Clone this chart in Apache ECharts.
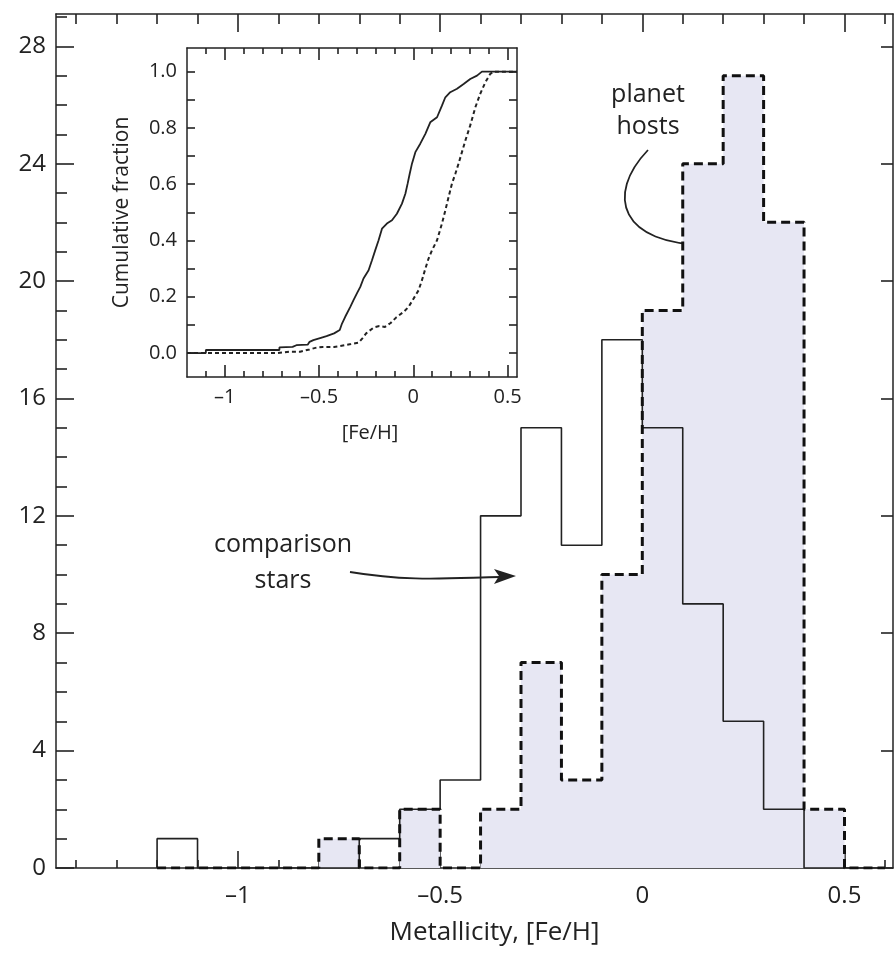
<!DOCTYPE html>
<html><head><meta charset="utf-8">
<script src="https://cdn.jsdelivr.net/npm/echarts@6/dist/echarts.min.js"></script>
<style>html,body{margin:0;padding:0;background:#fff}#c{width:895px;height:961px}</style>
</head><body><div id="c"></div>
<script>
// ---- data ----
const binEdges = [-1.2,-1.1,-1.0,-0.9,-0.8,-0.7,-0.6,-0.5,-0.4,-0.3,-0.2,-0.1,0.0,0.1,0.2,0.3,0.4,0.5,0.6];
const comparisonCounts = [1,0,0,0,0,1,2,3,12,15,11,18,15,9,5,2,0,0];
const hostCounts       = [0,0,0,0,1,0,2,0,2,7,3,10,19,24,27,22,2,0];

const comparisonCdf = [[-1.2,0],[-1.10,0],[-1.10,0.011],[-0.71,0.011],[-0.71,0.02],[-0.64,0.022],[-0.62,0.028],[-0.56,0.03],[-0.55,0.04],[-0.53,0.046],[-0.49,0.054],[-0.46,0.06],[-0.42,0.07],[-0.39,0.082],[-0.378,0.105],[-0.361,0.129],[-0.334,0.164],[-0.317,0.188],[-0.299,0.212],[-0.281,0.235],[-0.264,0.265],[-0.237,0.294],[-0.219,0.33],[-0.202,0.365],[-0.184,0.401],[-0.166,0.442],[-0.14,0.46],[-0.113,0.472],[-0.087,0.495],[-0.06,0.531],[-0.042,0.566],[-0.03,0.602],[-0.019,0.637],[-0.007,0.673],[0.011,0.714],[0.037,0.744],[0.064,0.779],[0.09,0.82],[0.126,0.838],[0.152,0.879],[0.17,0.909],[0.196,0.927],[0.232,0.939],[0.267,0.956],[0.302,0.974],[0.338,0.986],[0.364,1.0],[0.55,1.0]];
const hostCdf = [[-1.2,0],[-0.72,0],[-0.65,0.005],[-0.6,0.005],[-0.55,0.013],[-0.51,0.02],[-0.48,0.022],[-0.42,0.022],[-0.39,0.025],[-0.33,0.032],[-0.29,0.037],[-0.27,0.052],[-0.25,0.07],[-0.21,0.091],[-0.18,0.096],[-0.15,0.093],[-0.12,0.107],[-0.09,0.127],[-0.05,0.147],[-0.025,0.164],[0.002,0.194],[0.028,0.223],[0.046,0.259],[0.064,0.3],[0.081,0.336],[0.099,0.365],[0.126,0.401],[0.152,0.46],[0.17,0.507],[0.187,0.554],[0.205,0.602],[0.223,0.637],[0.24,0.673],[0.258,0.714],[0.276,0.755],[0.302,0.809],[0.329,0.873],[0.355,0.921],[0.382,0.962],[0.408,0.992],[0.426,1.0],[0.55,1.0]];

const mainXLabels = [-1,-0.5,0,0.5];
const mainXMinor = [-1.4,-1.3,-1.2,-1.1,-0.9,-0.8,-0.7,-0.6,-0.4,-0.3,-0.2,-0.1,0.1,0.2,0.3,0.4,0.6];
const mainYLabels = [0,4,8,12,16,20,24,28];
const mainYMinor = [1,2,3,5,6,7,9,10,11,13,14,15,17,18,19,21,22,23,25,26,27,29];
const insetXLabels = [-1,-0.5,0,0.5];
const insetXMinor = [-1.1,-0.9,-0.8,-0.7,-0.6,-0.4,-0.3,-0.2,-0.1,0.1,0.2,0.3,0.4];
const insetYLabels = [0,0.2,0.4,0.6,0.8,1.0];
const insetYTicks = [0,0.1,0.2,0.3,0.4,0.5,0.6,0.7,0.8,0.9,1.0];

const xAxisTitle = 'Metallicity, [Fe/H]';
const insetXTitle = '[Fe/H]';
const insetYTitle = 'Cumulative fraction';
const notePlanet = ['planet','hosts'];
const noteComparison = ['comparison','stars'];

// ---- helpers ----
function stepPoints(edges, counts){
  const pts = [[edges[0],0]];
  counts.forEach((c,i)=>{ pts.push([edges[i],c]); pts.push([edges[i+1],c]); });
  pts.push([edges[edges.length-1],0]);
  return pts;
}
const FONT = '"Open Sans", "Noto Sans", sans-serif';
const INK = '#222';
const dash = v => (v < 0 ? '\u2013' + String(-v) : String(v));

function ax(gridIndex, position, range, showLine, ticks, extra){
  return Object.assign({
    type:'value', gridIndex, position, splitLine:{show:false},
    axisLabel:{show:false},
    axisTick: ticks ? {show:true, inside:true, length:ticks[0], customValues:ticks[1], lineStyle:{color:INK, width:1.6}} : {show:false},
    axisLine:{show:!!showLine, onZero:false, lineStyle:{color:INK, width:1.5}}
  }, range, extra || {});
}

const chart = echarts.init(document.getElementById('c'), null, {renderer:'canvas'});
const MX = {min:-1.45, max:0.62};
const MY = {min:0, max:29.1};
const IX = {min:-1.2, max:0.55};
const IY = {min:-0.085, max:1.084};
const mainRect = {left:56, top:14, right:2, bottom:93};
const insetRect = {left:187, top:48, width:330, height:329};

chart.setOption({
  animation:false,
  backgroundColor:'#fff',
  grid:[mainRect, mainRect, mainRect, mainRect, insetRect, insetRect, insetRect, insetRect],
  xAxis:[
    ax(0,'bottom',MX,true,[17,mainXLabels],{
      axisLabel:{show:true,customValues:mainXLabels,margin:16,fontSize:24,color:INK,fontFamily:FONT,formatter:dash},
      name:xAxisTitle, nameLocation:'middle', nameGap:52,
      nameTextStyle:{fontSize:26,color:INK,fontFamily:FONT,padding:[0,0,0,40]}}),
    ax(1,'top',MX,true,[18,mainXLabels]),
    ax(2,'bottom',MX,false,[8,mainXMinor]),
    ax(3,'top',MX,false,[10,mainXMinor]),
    ax(4,'bottom',IX,true,[12,insetXLabels],{
      axisLabel:{show:true,customValues:insetXLabels,margin:10,fontSize:20,color:INK,fontFamily:FONT,formatter:dash},
      name:insetXTitle, nameLocation:'middle', nameGap:46,
      nameTextStyle:{fontSize:20,color:INK,fontFamily:FONT,padding:[0,0,0,36]}}),
    ax(5,'top',IX,true,[12,insetXLabels]),
    ax(6,'bottom',IX,false,[6,insetXMinor]),
    ax(7,'top',IX,false,[6,insetXMinor])
  ],
  yAxis:[
    ax(0,'left',MY,true,[18,mainYLabels],{
      axisLabel:{show:true,customValues:mainYLabels,margin:10,fontSize:24,color:INK,fontFamily:FONT}}),
    ax(1,'right',MY,true,[12,mainYLabels]),
    ax(2,'left',MY,false,[11,mainYMinor]),
    ax(3,'right',MY,false,null),
    ax(4,'left',IY,true,[8,insetYTicks],{
      axisLabel:{show:true,customValues:insetYLabels,margin:10,fontSize:20,color:INK,fontFamily:FONT,formatter:v=>v.toFixed(1)},
      name:insetYTitle, nameLocation:'middle', nameGap:54, nameRotate:90,
      nameTextStyle:{fontSize:21,color:INK,fontFamily:FONT}}),
    ax(5,'right',IY,true,[8,insetYTicks]),
    ax(6,'left',IY,false,null),
    ax(7,'right',IY,false,null)
  ],
  series:[
    {type:'line', xAxisIndex:0, yAxisIndex:0, data:stepPoints(binEdges,hostCounts), symbol:'none', silent:true,
      lineStyle:{width:0, opacity:0}, areaStyle:{color:'#e7e7f3', opacity:1}, z:1},
    {type:'line', xAxisIndex:0, yAxisIndex:0, data:stepPoints(binEdges,comparisonCounts), symbol:'none', silent:true,
      lineStyle:{color:INK, width:1.6}, z:2},
    {type:'line', xAxisIndex:0, yAxisIndex:0, data:stepPoints(binEdges,hostCounts), symbol:'none', silent:true,
      lineStyle:{color:'#111', width:3, type:[9,5]}, z:3},
    {type:'line', xAxisIndex:4, yAxisIndex:4, data:comparisonCdf, symbol:'none', silent:true,
      lineStyle:{color:INK, width:1.8}, z:3},
    {type:'line', xAxisIndex:4, yAxisIndex:4, data:hostCdf, symbol:'none', silent:true,
      lineStyle:{color:INK, width:2, type:[4,3]}, z:3}
  ],
  graphic:[
    {type:'text', x:648, y:95, style:{text:notePlanet[0], font:'25px '+FONT, fill:INK, align:'center', verticalAlign:'middle', textAlign:'center', textVerticalAlign:'middle'}},
    {type:'text', x:648, y:127, style:{text:notePlanet[1], font:'25px '+FONT, fill:INK, align:'center', verticalAlign:'middle', textAlign:'center', textVerticalAlign:'middle'}},
    {type:'text', x:283, y:545, style:{text:noteComparison[0], font:'25px '+FONT, fill:INK, align:'center', verticalAlign:'middle', textAlign:'center', textVerticalAlign:'middle'}},
    {type:'text', x:283, y:581, style:{text:noteComparison[1], font:'25px '+FONT, fill:INK, align:'center', verticalAlign:'middle', textAlign:'center', textVerticalAlign:'middle'}},
    {type:'bezierCurve', shape:{x1:648,y1:150,cpx1:605,cpy1:195,cpx2:620,cpy2:245,x2:708,y2:245}, style:{stroke:INK,lineWidth:1.8,fill:null}},
    {type:'polygon', shape:{points:[[726,245],[703,237],[708,245],[703,253]]}, style:{fill:INK}},
    {type:'bezierCurve', shape:{x1:350,y1:572,cpx1:410,cpy1:582,cpx2:450,cpy2:578,x2:500,y2:577}, style:{stroke:INK,lineWidth:1.8,fill:null}},
    {type:'polygon', shape:{points:[[516,576],[494,569],[499,576],[494,584]]}, style:{fill:INK}}
  ]
});
</script></body></html>
